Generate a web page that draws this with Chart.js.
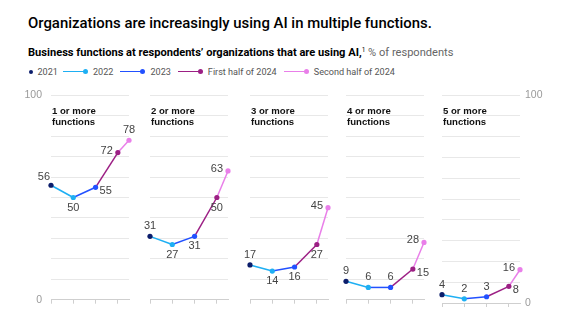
<!DOCTYPE html>
<html>
<head>
<meta charset="utf-8">
<script src="https://cdn.jsdelivr.net/npm/chart.js@4/dist/chart.umd.min.js"></script>
<style>
  html, body { margin: 0; padding: 0; background: #fff; }
  body { width: 563px; height: 325px; position: relative; overflow: hidden; font-family: Roboto, "Liberation Sans", Arial, sans-serif; }
  .title { position: absolute; left: 28px; top: 14px; font-size: 15px; color: #000; white-space: nowrap; font-weight: 500; line-height: 18px; }
  .sub { position: absolute; left: 28px; top: 45.5px; font-size: 10.5px; color: #000; white-space: nowrap; line-height: 13px; }
  .sub b { font-weight: 700; }
  .sub sup { font-size: 6.5px; font-weight: normal; vertical-align: 4px; line-height: 0; }
  .sub .gray { color: #666; }
  .legend { position: absolute; left: 28.5px; top: 65.7px; height: 12px; display: flex; align-items: center; font-size: 9.1px; color: #555; white-space: nowrap; }
  .item { display: flex; align-items: center; margin-right: 7px; }
  .item.first { margin-right: 5px; }
  .ln { display: inline-block; width: 22px; height: 1.5px; }
  .dt { display: inline-block; width: 5px; height: 5px; border-radius: 50%; margin-left: -2px; margin-right: 5px; }
  .cv { position: absolute; top: 80px; }
</style>
</head>
<body>
<div class="title" id="title">Organizations are increasingly using AI in multiple functions.</div>
<div class="sub" id="sub"><b>Business functions at respondents’ organizations that are using AI,</b><sup>1</sup> <span class="gray">% of respondents</span></div>
<div class="legend" id="legend"></div>
<div id="charts"></div>
<script>
// ---- data ----
const categories = ['2021', '2022', '2023', 'First half of 2024', 'Second half of 2024'];
const xValues = [2021, 2022, 2023, 2024, 2024.5];
const panelTitles = [
  ['1 or more', 'functions'],
  ['2 or more', 'functions'],
  ['3 or more', 'functions'],
  ['4 or more', 'functions'],
  ['5 or more', 'functions']
];
const oneOrMore   = [56, 50, 55, 72, 78];
const twoOrMore   = [31, 27, 31, 50, 63];
const threeOrMore = [17, 14, 16, 27, 45];
const fourOrMore  = [9, 6, 6, 15, 28];
const fiveOrMore  = [4, 2, 3, 8, 16];
const yTickLabels = [0, 100];

// ---- styling ----
const seriesList = [oneOrMore, twoOrMore, threeOrMore, fourOrMore, fiveOrMore];
const colors = ['#0b1d6b', '#1eaff3', '#2251ff', '#9c1f84', '#e97fe9'];
const placements = [
  ['tl', 'b', 'br', 'l', 't'],
  ['t', 'b', 'b', 'b', 'l'],
  ['t', 'b', 'b', 'b', 'l'],
  ['t', 't', 't', 'br', 'l'],
  ['t', 't', 't', 'br', 'l']
];
const panelLefts = [51, 150, 250, 346, 442];
const panelWidth = 78;
const axisW = 30;

// fit header text widths to the reference
function fitWidth(el, target) {
  const fs = parseFloat(getComputedStyle(el).fontSize);
  const w = el.getBoundingClientRect().width;
  el.style.fontSize = (fs * target / w) + 'px';
}
fitWidth(document.getElementById('title'), 404);
fitWidth(document.getElementById('sub'), 426);

// legend
const legend = document.getElementById('legend');
categories.forEach((c, i) => {
  const it = document.createElement('div');
  it.className = 'item' + (i === 0 ? ' first' : '');
  if (i > 0) {
    const ln = document.createElement('span');
    ln.className = 'ln';
    ln.style.background = colors[i];
    it.appendChild(ln);
  }
  const dt = document.createElement('span');
  dt.className = 'dt';
  dt.style.background = colors[i];
  if (i === 0) { dt.style.width = '4px'; dt.style.height = '4px'; dt.style.marginLeft = '0'; dt.style.marginRight = '5px'; }
  it.appendChild(dt);
  const tx = document.createElement('span');
  tx.textContent = c;
  it.appendChild(tx);
  legend.appendChild(it);
});

const labelPlugin = {
  id: 'pointLabels',
  afterDatasetsDraw(chart, args, opts) {
    const ctx = chart.ctx;
    const meta = chart.getDatasetMeta(0);
    const pl = opts.placements;
    ctx.save();
    ctx.font = '11px "Liberation Sans", Arial, sans-serif';
    ctx.fillStyle = '#444';
    ctx.textBaseline = 'middle';
    meta.data.forEach((pt, i) => {
      const v = chart.data.datasets[0].data[i].y;
      let dx = 0, dy = 0, align = 'center';
      switch (pl[i]) {
        case 't': dy = -10; break;
        case 'b': dy = 10; break;
        case 'tl': align = 'right'; dx = -1; dy = -8; break;
        case 'br': align = 'left'; dx = 4; dy = 4; break;
        case 'l': align = 'right'; dx = -5; dy = -2; break;
      }
      ctx.textAlign = align;
      ctx.fillText(String(v), pt.x + dx, pt.y + dy);
    });
    ctx.restore();
  }
};

const titlePlugin = {
  id: 'panelTitle',
  afterDraw(chart, args, opts) {
    const ctx = chart.ctx;
    const a = chart.chartArea;
    ctx.save();
    ctx.font = 'bold 9.6px "Liberation Sans", Arial, sans-serif';
    ctx.fillStyle = '#111';
    ctx.textAlign = 'left';
    ctx.textBaseline = 'alphabetic';
    opts.lines.forEach((l, k) => ctx.fillText(l, a.left + 1, a.top + 18.5 + k * 11));
    ctx.restore();
  }
};

const holder = document.getElementById('charts');
seriesList.forEach((series, p) => {
  const isLast = p === seriesList.length - 1;
  const isFirst = p === 0;
  const cv = document.createElement('canvas');
  cv.className = 'cv';
  const W = axisW + panelWidth + axisW;
  const H = 235;
  cv.width = W; cv.height = H;
  cv.style.width = W + 'px'; cv.style.height = H + 'px';
  cv.style.left = (panelLefts[p] - axisW) + 'px';
  holder.appendChild(cv);
  new Chart(cv, {
    type: 'line',
    data: {
      datasets: [{
        data: series.map((v, i) => ({ x: xValues[i], y: v })),
        borderWidth: 1.5,
        pointRadius: 2.6,
        pointHoverRadius: 2.6,
        pointBorderWidth: 0,
        pointBackgroundColor: colors,
        borderColor: colors[1],
        segment: { borderColor: c => colors[c.p1DataIndex] },
        tension: 0,
        clip: false
      }]
    },
    options: {
      responsive: false,
      animation: false,
      events: [],
      layout: { padding: { top: 15, bottom: 0, left: isLast ? axisW : 0, right: isLast ? 0 : axisW } },
      plugins: {
        legend: { display: false },
        tooltip: { enabled: false },
        pointLabels: { placements: placements[p] },
        panelTitle: { lines: panelTitles[p] }
      },
      scales: {
        x: {
          type: 'linear',
          min: xValues[0],
          max: xValues[xValues.length - 1],
          afterBuildTicks: s => { s.ticks = xValues.filter(v => Number.isInteger(v)).map(v => ({ value: v })); },
          afterFit: s => { s.height = 12; },
          ticks: { display: false },
          grid: { drawOnChartArea: false, drawTicks: true, tickLength: 4, color: '#cfcfcf', lineWidth: 1 },
          border: { display: true, color: '#cfcfcf', width: 1 }
        },
        y: {
          position: isLast ? 'right' : 'left',
          min: 0,
          max: 100,
          afterFit: s => { s.width = axisW; },
          ticks: {
            stepSize: 10,
            padding: isLast ? 5 : 9,
            color: '#9a9a9a',
            font: { size: 10.5, family: '"Liberation Sans", Arial, sans-serif' },
            callback: v => ((isFirst || isLast) && yTickLabels.includes(v)) ? String(v) : ''
          },
          grid: { drawTicks: false, color: '#e8e8e8', lineWidth: 1 },
          border: { display: false }
        }
      }
    },
    plugins: [labelPlugin, titlePlugin]
  });
});
</script>
</body>
</html>
